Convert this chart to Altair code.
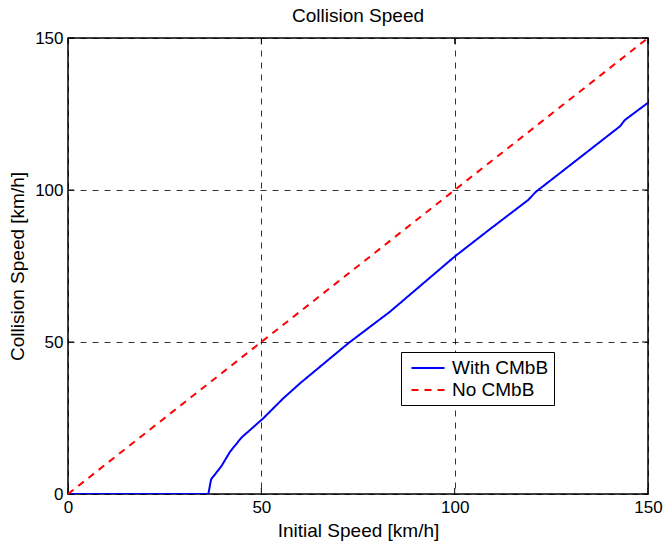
import altair as alt
import pandas as pd

# Collision speed with and without the collision-mitigation braking system
initial_with = [0, 36.3, 37.0, 39.7, 41.9, 44.9, 50.5, 55.7, 60.0, 72.5, 83.3,
                100.0, 109.1, 119.0, 121.0, 130.0, 142.8, 144.0, 150.0]
collision_with = [0, 0, 4.8, 9.2, 13.9, 18.6, 24.9, 31.5, 36.4, 49.6, 60.0,
                  78.1, 87.1, 96.7, 99.4, 108.3, 121.0, 123.0, 128.7]
initial_without = [0, 150]
collision_without = [0, 150]
series_names = ["With CMbB", "No CMbB"]
tick_values = [0, 50, 100, 150]

df = pd.concat([
    pd.DataFrame({"initial": initial_with, "collision": collision_with,
                  "series": series_names[0]}),
    pd.DataFrame({"initial": initial_without, "collision": collision_without,
                  "series": series_names[1]}),
])
ticks = pd.DataFrame({"v": tick_values})

FONT = "Liberation Sans"
W, H = 580, 456
TL = 6

x_scale = alt.Scale(domain=[0, 150], nice=False, zero=False)
y_scale = alt.Scale(domain=[0, 150], nice=False, zero=False)

x_axis = alt.Axis(values=tick_values, title="Initial Speed [km/h]", grid=True,
                  ticks=False, domain=False, labelPadding=5,
                  titleBaseline="alphabetic", titleY=42, labelFlush=False)
y_axis = alt.Axis(values=tick_values, title="Collision Speed [km/h]", grid=True,
                  ticks=False, domain=False, labelPadding=5,
                  titleBaseline="alphabetic", titleX=-45, labelFlush=False)

# wide stroke glyph for the legend entries, kept short in the layout box
legend = alt.Legend(title=None, orient="none", legendX=333, legendY=314,
                    symbolType="M-1.65,0H1.65", symbolSize=400, symbolStrokeWidth=2,
                    symbolOffset=11, labelFontSize=19, labelFont=FONT,
                    labelColor="black", strokeColor="black", fillColor="white",
                    padding=5, labelOffset=13, rowPadding=1)

lines = alt.Chart(df).mark_line(strokeWidth=2, clip=True).encode(
    x=alt.X("initial:Q", scale=x_scale, axis=x_axis),
    y=alt.Y("collision:Q", scale=y_scale, axis=y_axis),
    color=alt.Color("series:N",
                    scale=alt.Scale(domain=series_names, range=["#0000ff", "#ff0000"]),
                    legend=legend),
    strokeDash=alt.StrokeDash("series:N",
                              scale=alt.Scale(domain=series_names, range=[[1, 0], [7, 6]]),
                              legend=legend),
)

# inward tick marks on all four sides of the frame
base_t = alt.Chart(ticks).mark_rule(color="black", strokeWidth=1)
t_bottom = base_t.encode(x=alt.X("v:Q", scale=x_scale), y=alt.value(H), y2=alt.value(H - TL))
t_top = base_t.encode(x=alt.X("v:Q", scale=x_scale), y=alt.value(0), y2=alt.value(TL))
t_left = base_t.encode(y=alt.Y("v:Q", scale=y_scale), x=alt.value(0), x2=alt.value(TL))
t_right = base_t.encode(y=alt.Y("v:Q", scale=y_scale), x=alt.value(W), x2=alt.value(W - TL))

chart = alt.layer(t_bottom, t_top, t_left, t_right, lines).properties(
    width=W, height=H,
    title=alt.TitleParams("Collision Speed", font=FONT, fontSize=19,
                          fontWeight="normal", color="black", offset=8, dy=5),
    autosize=alt.AutoSizeParams(type="none"),
    padding={"left": 68, "top": 38, "right": 17, "bottom": 48},
).configure_view(
    stroke="black", strokeWidth=1.5,
).configure_axis(
    labelFont=FONT, labelFontSize=17, labelColor="black",
    titleFont=FONT, titleFontSize=19, titleFontWeight="normal", titleColor="black",
    gridColor="#000000", gridDash=[6, 6], gridWidth=1, gridOpacity=0.8,
)

chart.save("out.html", embed_options={"renderer": "svg", "actions": False})
